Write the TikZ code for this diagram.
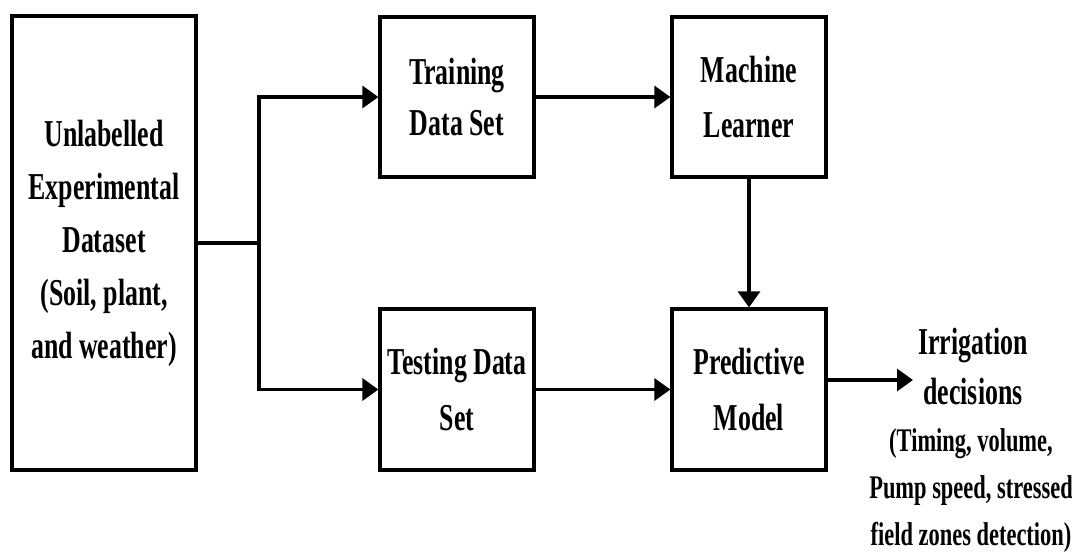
\documentclass[tikz,border=0pt]{standalone}
\usepackage{fontspec}
\setmainfont{Liberation Serif}[FakeStretch=0.68]
\usetikzlibrary{arrows.meta}
\begin{document}
\begin{tikzpicture}[x=1pt,y=-1pt,
  box/.style={draw,line width=3.2pt,rectangle,inner sep=0pt,align=center,
    font=\bfseries\fontsize{38}{53}\selectfont},
  conn/.style={line width=3.2pt,-{Triangle[length=16pt,width=22pt]}},
  plain/.style={line width=3.2pt}]
\useasboundingbox (0,0) rectangle (1072,555);
\node[box,minimum width=184pt,minimum height=454pt] (big) at (104,243)
  {Unlabelled\\Experimental\\Dataset\\(Soil, plant,\\and weather)};
\node[box,minimum width=154pt,minimum height=160pt,font=\bfseries\fontsize{38}{51}\selectfont] (train) at (457,97) {Training\\Data Set};
\node[box,minimum width=154pt,minimum height=160pt,font=\bfseries\fontsize{38}{55}\selectfont] (ml) at (749,97) {Machine\\Learner};
\node[box,minimum width=154pt,minimum height=161pt,font=\bfseries\fontsize{38}{56}\selectfont] (test) at (457,389.5) {Testing Data\\Set};
\node[box,minimum width=154pt,minimum height=161pt,font=\bfseries\fontsize{38}{56}\selectfont] (pred) at (749,389.5) {Predictive\\Model};
\node[align=center,inner sep=0pt,font=\bfseries\fontsize{38}{50}\selectfont] (out1) at (973,366) {Irrigation\\decisions};
\node[align=center,inner sep=0pt,font=\bfseries\fontsize{33}{47}\selectfont] (out2) at (971,491) {(Timing, volume,\\Pump speed, stressed\\field zones detection)};
\coordinate (split) at (259,243);
\coordinate (oend) at (913,380);
\draw[plain] (big.east) -- (split);
\draw[conn] (split) |- (train.west);
\draw[conn] (split) |- (test.west);
\draw[conn] (train) -- (ml);
\draw[conn] (test) -- (pred);
\draw[conn] (ml) -- (pred);
\draw[conn] (pred.east |- oend) -- (oend);
\end{tikzpicture}
\end{document}
